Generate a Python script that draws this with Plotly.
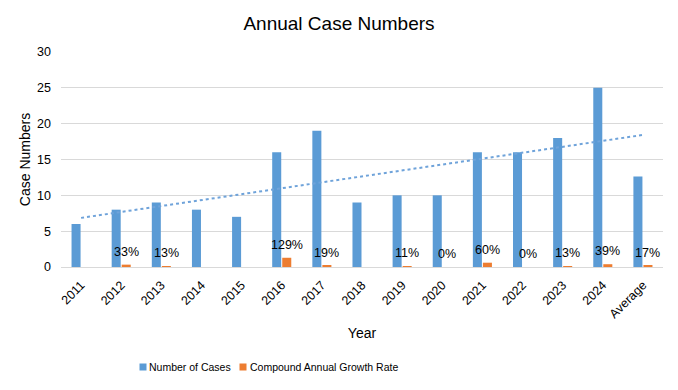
import numpy as np
import plotly.graph_objects as go

categories = ["2011", "2012", "2013", "2014", "2015", "2016", "2017", "2018",
              "2019", "2020", "2021", "2022", "2023", "2024", "Average"]
cases = [6, 8, 9, 8, 7, 16, 19, 9, 10, 10, 16, 16, 18, 25, 12.64]
cagr = [None, 0.33, 0.13, None, None, 1.29, 0.19, None, 0.11, 0.0, 0.60, 0.0, 0.13, 0.39, 0.17]
cagr_labels = ["" if v is None else f"{round(v*100)}%" for v in cagr]

# Linear trendline of the case numbers
xs = np.arange(1, len(cases) + 1)
slope, intercept = np.polyfit(xs, cases, 1)
trend = [slope * x + intercept for x in xs]

FONT = "Liberation Sans, Arial, sans-serif"
BLUE = "#5B9BD5"
ORANGE = "#ED7D31"

W, H = 678, 390
ML, MR, MT, MB = 61, 15, 52, 123
PW = W - ML - MR
PH = H - MT - MB

fig = go.Figure()
fig.add_trace(go.Bar(x=categories, y=cases, name="Number of Cases",
                     marker=dict(color=BLUE, line=dict(width=0)), showlegend=False))
fig.add_trace(go.Bar(x=categories, y=cagr, name="Compound Annual Growth Rate",
                     marker=dict(color=ORANGE, line=dict(width=0)), showlegend=False))
fig.add_trace(go.Scatter(x=categories, y=trend, mode="lines", showlegend=False,
                         line=dict(color="#6FA3DA", width=2, dash="dot"),
                         hoverinfo="skip"))

# data labels for the growth-rate bars (x given as category index)
for i, (v, lab) in enumerate(zip(cagr, cagr_labels)):
    if v is None:
        continue
    fig.add_annotation(x=i, y=v, xref="x", yref="y", text=lab, showarrow=False,
                       xshift=5, yshift=13, yanchor="middle", xanchor="center",
                       font=dict(size=12.5, color="#000000", family=FONT))

# manual legend (compact, Excel-like)
def px_x(p):
    return (p - ML) / PW

def px_y(p):
    return (H - MB - p) / PH

legend_items = [("Number of Cases", BLUE, 143, 147), ("Compound Annual Growth Rate", ORANGE, 243, 248)]
for name, col, sx, tx in legend_items:
    fig.add_annotation(x=px_x(sx), y=px_y(367), xref="paper", yref="paper",
                       text=" ", showarrow=False, xanchor="center", yanchor="middle",
                       width=6, height=6, bgcolor=col, borderpad=0,
                       font=dict(size=4))
    fig.add_annotation(x=px_x(tx), y=px_y(367), xref="paper", yref="paper",
                       text=name, showarrow=False, xanchor="left", yanchor="middle",
                       font=dict(size=10.5, color="#000000", family=FONT))

fig.update_layout(
    width=W, height=H,
    margin=dict(l=ML, r=MR, t=MT, b=MB),
    paper_bgcolor="white", plot_bgcolor="white",
    font=dict(family=FONT, color="#000000", size=12),
    title=dict(text="Annual Case Numbers", x=0.5, xanchor="center",
               y=0.94, yanchor="middle", font=dict(size=19, color="#000000")),
    barmode="group", bargap=0.5, bargroupgap=0.1,
    showlegend=False,
    xaxis=dict(type="category", categoryorder="array", categoryarray=categories,
               range=[-0.5, len(categories) - 0.5],
               title=dict(text="Year", font=dict(size=14), standoff=8),
               tickangle=-45, tickfont=dict(size=12.5),
               showline=True, linecolor="#d9d9d9", linewidth=1,
               showgrid=False, ticks="", automargin=False,
               ticklabelstandoff=5),
    yaxis=dict(title=dict(text="Case Numbers", font=dict(size=14), standoff=3),
               range=[0, 30], dtick=5, tickfont=dict(size=12.5),
               showgrid=True, gridcolor="#d9d9d9", gridwidth=1,
               zeroline=False, ticks="", automargin=False,
               ticklabelstandoff=9),
)

fig.write_html("out.html")
